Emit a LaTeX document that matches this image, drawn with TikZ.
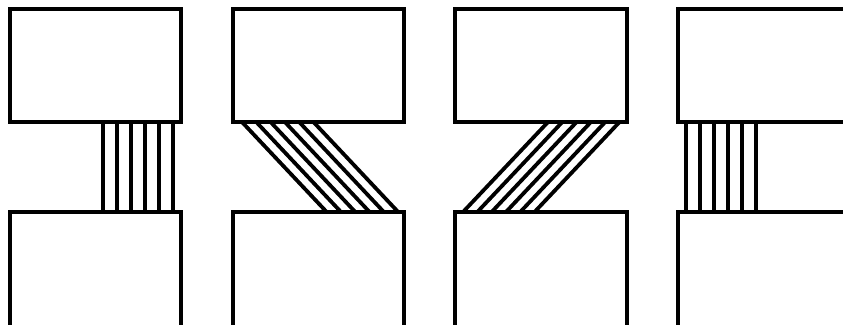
\documentclass[tikz,border=0pt]{standalone}
\usetikzlibrary{calc}
\tikzset{
  blk/.style={draw=black, line width=4pt, rectangle, inner sep=0pt, outer sep=0pt,
    minimum width=171.3pt, minimum height=113pt, anchor=north west},
  lowblk/.style={blk, minimum height=115.5pt},
  wire/.style={draw=black, line width=3.8pt}
}
\begin{document}
\begin{tikzpicture}[x=1pt,y=-1pt]
\useasboundingbox (0,0) rectangle (843,324);
% boxes
\node[blk] (t1) at (10,9) {};
\node[lowblk] (b1) at (10,212) {};
\node[blk] (t2) at (232.67,9) {};
\node[lowblk] (b2) at (232.67,212) {};
\node[blk] (t3) at (455.33,9) {};
\node[lowblk] (b3) at (455.33,212) {};
\node[blk] (t4) at (678,9) {};
\node[lowblk] (b4) at (678,212) {};
% connectors
\foreach \k in {0,...,5}{
  \draw[wire] ($(t1.south west)+(93+14*\k,0)$) -- ($(b1.north west)+(93+14*\k,0)$);
  \draw[wire] ($(t2.south west)+(9.3+14.3*\k,0)$) -- ($(b2.north west)+(94+14.3*\k,0)$);
  \draw[wire] ($(t3.south west)+(92.7+14.3*\k,0)$) -- ($(b3.north west)+(7.7+14.3*\k,0)$);
  \draw[wire] ($(t4.south west)+(8+14*\k,0)$) -- ($(b4.north west)+(8+14*\k,0)$);
}
\end{tikzpicture}
\end{document}
